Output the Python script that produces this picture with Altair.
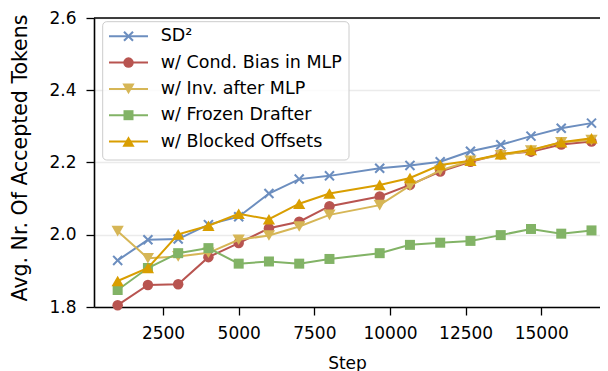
import altair as alt
import pandas as pd

steps = [1000, 2000, 3000, 4000, 5000, 6000, 7000, 8000,
         9660, 10660, 11660, 12660, 13660, 14660, 15660, 16660]

series_names = ["SD²", "w/ Cond. Bias in MLP", "w/ Inv. after MLP",
                "w/ Frozen Drafter", "w/ Blocked Offsets"]

sd2 = [1.929, 1.986, 1.988, 2.028, 2.050, 2.114, 2.154, 2.163,
       2.184, 2.192, 2.202, 2.231, 2.249, 2.273, 2.295, 2.309]
cond_bias = [1.805, 1.861, 1.863, 1.938, 1.977, 2.018, 2.036, 2.079,
             2.106, 2.138, 2.175, 2.202, 2.223, 2.230, 2.250, 2.258]
inv_after = [2.010, 1.935, 1.940, 1.950, 1.986, 1.998, 2.023, 2.055,
             2.082, 2.136, 2.178, 2.205, 2.220, 2.233, 2.256, 2.262]
frozen = [1.847, 1.908, 1.949, 1.963, 1.920, 1.926, 1.920, 1.933,
          1.949, 1.972, 1.978, 1.983, 1.999, 2.016, 2.003, 2.012]
blocked = [1.872, 1.908, 2.001, 2.025, 2.058, 2.043, 2.086, 2.114,
           2.138, 2.157, 2.193, 2.205, 2.223, 2.235, 2.256, 2.267]

series_values = [sd2, cond_bias, inv_after, frozen, blocked]

colors = ["#6c8ebf", "#b85450", "#d6b656", "#82b366", "#d99e00"]

XPATH = ("M-1,-0.72L-0.72,-1L0,-0.28L0.72,-1L1,-0.72L0.28,0L1,0.72"
         "L0.72,1L0,0.28L-0.72,1L-1,0.72L-0.28,0Z")
shapes = [XPATH, "circle", "triangle-down", "square", "triangle-up"]
sizes = [110, 110, 150, 100, 150]

x_ticks = [2500, 5000, 7500, 10000, 12500, 15000]
y_ticks = [1.8, 2.0, 2.2, 2.4, 2.6]

W, H = 506, 289
FONT = "DejaVu Sans"

rows = []
for name, vals in zip(series_names, series_values):
    for s, v in zip(steps, vals):
        rows.append({"series": name, "step": s, "value": v})
df = pd.DataFrame(rows)

xscale = alt.Scale(domain=[218, 16941], nice=False, zero=False)
yscale = alt.Scale(domain=[1.8, 2.6], nice=False, zero=False)

xenc = alt.X("step:Q", scale=xscale,
             axis=alt.Axis(values=x_ticks, format="d", title="Step", grid=False,
                           labelFontSize=17, titleFontSize=17,
                           tickSize=8, labelPadding=10, titlePadding=14,
                           labelFlush=False))
yenc = alt.Y("value:Q", scale=yscale,
             axis=alt.Axis(values=y_ticks, format=".1f",
                           title="Avg. Nr. Of Accepted Tokens",
                           grid=True, gridColor="#ebebeb", gridWidth=1.3,
                           labelFontSize=17, titleFontSize=20.5,
                           tickSize=8, labelPadding=10,
                           titleX=-74, titleY=139.5,
                           titleBaseline="middle", labelFlush=False))

layers = []
for i, (name, col, shp, sz) in enumerate(zip(series_names, colors, shapes, sizes)):
    base = alt.Chart(df).transform_filter(alt.datum.series == name)
    line = base.mark_line(strokeWidth=2, color=col).encode(
        x=xenc if i == 0 else alt.X("step:Q", scale=xscale),
        y=yenc if i == 0 else alt.Y("value:Q", scale=yscale))
    pts = base.mark_point(filled=True, opacity=1, color=col, shape=shp,
                          size=sz).encode(
        x=alt.X("step:Q", scale=xscale),
        y=alt.Y("value:Q", scale=yscale))
    layers += [line, pts]

# top spine
one = pd.DataFrame({"k": [0]})
top_spine = alt.Chart(one).mark_rule(color="black", strokeWidth=1.6).encode(
    x=alt.value(0), x2=alt.value(W), y=alt.value(0))
layers.append(top_spine)

# legend
PX_PER_UNIT = H / 0.8
leg_rows = []
for i, name in enumerate(series_names):
    leg_rows.append({"series": name,
                     "ly": 2.6 - (18.3 + 26.3 * i) / PX_PER_UNIT})
leg = pd.DataFrame(leg_rows)

box = alt.Chart(one).mark_rect(cornerRadius=4, fill="white", fillOpacity=0.8,
                               stroke="#cccccc", strokeWidth=1).encode(
    x=alt.value(8.7), x2=alt.value(255), y=alt.value(3.7), y2=alt.value(142))
layers.append(box)

for name, col, shp, sz in zip(series_names, colors, shapes, sizes):
    lb = alt.Chart(leg).transform_filter(alt.datum.series == name)
    layers.append(lb.mark_rule(strokeWidth=2, color=col).encode(
        x=alt.value(15), x2=alt.value(54),
        y=alt.Y("ly:Q", scale=yscale)))
    layers.append(lb.mark_point(filled=True, opacity=1, color=col, shape=shp,
                                size=sz).encode(
        x=alt.value(34.5), y=alt.Y("ly:Q", scale=yscale)))

layers.append(alt.Chart(leg).mark_text(align="left", baseline="middle",
                                       font=FONT, fontSize=17.5,
                                       color="black").encode(
    x=alt.value(66.7), y=alt.Y("ly:Q", scale=yscale), text="series:N"))

chart = alt.layer(*layers).properties(
    width=W, height=H,
    autosize=alt.AutoSizeParams(type="none"),
    padding={"left": 86, "top": 10, "right": 0, "bottom": 66},
).configure_view(stroke=None).configure_axis(
    labelFont=FONT, titleFont=FONT, labelColor="black", titleColor="black",
    titleFontWeight="normal", domainColor="black", domainWidth=1.6,
    tickColor="black", tickWidth=1.3,
)

chart.save("out.html", embed_options={"renderer": "svg", "actions": False})
